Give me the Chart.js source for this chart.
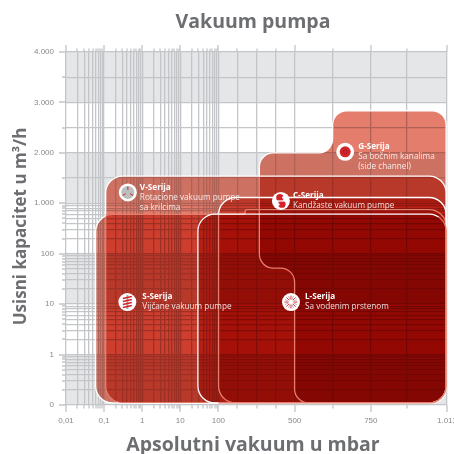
<!DOCTYPE html>
<html>
<head>
<meta charset="utf-8">
<style>
  html, body { margin: 0; padding: 0; background: #fff; }
  #wrap { position: relative; width: 454px; height: 454px; overflow: hidden; }
</style>
<script src="https://cdn.jsdelivr.net/npm/chart.js@4/dist/chart.umd.js"></script>
</head>
<body>
<div id="wrap"><canvas id="chart" width="454" height="454"></canvas></div>
<script>
// x decades are half as wide as the linear parts, y knots are all evenly spaced
const xKnots = [0.01, 0.1, 1, 10, 100, 500, 750, 1013];
const yKnots = [0.1, 1, 10, 100, 1000, 2000, 3000, 4000];
const xKnotSteps = [0, 1, 2, 3, 4, 6, 8, 10];
const yKnotSteps = [0, 1, 2, 3, 4, 5, 6, 7];
const xTickLabels = ['0,01', '0,1', '1', '10', '100', '500', '750', '1.013'];
const yTickLabels = ['0', '1', '10', '100', '1.000', '2.000', '3.000', '4.000'];
const xMinor = [0.02, 0.03, 0.04, 0.05, 0.06, 0.07, 0.08, 0.09,
  0.2, 0.3, 0.4, 0.5, 0.6, 0.7, 0.8, 0.9,
  2, 3, 4, 5, 6, 7, 8, 9,
  20, 30, 40, 50, 60, 70, 80, 90,
  200, 300, 400, 625, 875];
const yMinor = [0.2, 0.3, 0.4, 0.5, 0.6, 0.7, 0.8, 0.9,
  2, 3, 4, 5, 6, 7, 8, 9,
  20, 30, 40, 50, 60, 70, 80, 90,
  200, 300, 400, 500, 600, 700, 800, 900,
  1500, 2500, 3500];
const logLimit = { x: 100, y: 1000 };

const bandFlow = [[3000, 4000], [1000, 2000], [10, 100], [0.1, 1]];

// operating ranges: outline corners in mbar / m3/h
const gMbar = [315, 625, 625, 1010, 1010, 500, 500, 315];
const gFlow = [2000, 2000, 2835, 2835, 0.11, 0.11, 52, 52];
const vMbar = [0.11, 1010, 1010, 0.11];
const vFlow = [1540, 1540, 0.11, 0.11];
const sMbar = [0.06, 240, 240, 1010, 1010, 0.06];
const sFlow = [600, 600, 750, 750, 0.11, 0.11];
const cMbar = [101, 1010, 1010, 101];
const cFlow = [1115, 1115, 0.11, 0.11];
const lMbar = [29, 1010, 1010, 29];
const lFlow = [610, 610, 0.11, 0.11];

const seriesKeys = ['G', 'V', 'S', 'C', 'L'];
const seriesNames = ['G-Serija', 'V-Serija', 'S-Serija', 'C-Serija', 'L-Serija'];
const seriesNotes = [
  ['Sa bočnim kanalima', '(side channel)'],
  ['Rotacione vakuum pumpe', 'sa krilcima'],
  ['Vijčane vakuum pumpe'],
  ['Kandžaste vakuum pumpe'],
  ['Sa vodenim prstenom']
];
const iconMbar = [666, 0.42, 0.408, 428, 481];
const iconFlow = [2020, 1215, 11, 1046, 11];
const labelGap = [13, 12, 15, 12, 14];

const titleText = 'Vakuum pumpa';
const xTitleText = 'Apsolutni vakuum u mbar';
const yTitleText = 'Usisni kapacitet u m³/h';

const GREY = '#e5e6e8';
const GRID = '#c3c5c8';
const SALMON = '#e57d6c';
const TITLE = '#6d6e71';
const RED = '#d2232a';

const knotsFor = { x: xKnots, y: yKnots };
const stepsFor = { x: xKnotSteps, y: yKnotSteps };
const minorFor = { x: xMinor, y: yMinor };

class SegmentScale extends Chart.Scale {
  static id = 'segment';
  static defaults = {};

  determineDataLimits() {
    const knots = knotsFor[this.axis];
    this.min = knots[0];
    this.max = knots[knots.length - 1];
  }

  buildTicks() {
    return knotsFor[this.axis].concat(minorFor[this.axis])
      .sort((a, b) => a - b)
      .map((value) => ({ value }));
  }

  getPixelForValue(value) {
    const knots = knotsFor[this.axis];
    const steps = stepsFor[this.axis];
    const limit = logLimit[this.axis];
    let i = 0;
    while (i < knots.length - 2 && value > knots[i + 1]) i++;
    const a = knots[i];
    const b = knots[i + 1];
    const part = b <= limit
      ? Math.log(value / a) / Math.log(b / a)
      : (value - a) / (b - a);
    const step = steps[i] + part * (steps[i + 1] - steps[i]);
    return this.getPixelForDecimal(step / steps[steps.length - 1]);
  }

  getValueForPixel(pixel) {
    const knots = knotsFor[this.axis];
    const steps = stepsFor[this.axis];
    const pos = this.getDecimalForPixel(pixel) * steps[steps.length - 1];
    let i = 0;
    while (i < steps.length - 2 && pos > steps[i + 1]) i++;
    const part = (pos - steps[i]) / (steps[i + 1] - steps[i]);
    const a = knots[i];
    const b = knots[i + 1];
    return b <= logLimit[this.axis]
      ? a * Math.pow(b / a, part)
      : a + (b - a) * part;
  }
}
Chart.register(SegmentScale);

const toPoints = (xs, ys) => xs.map((x, i) => ({ x, y: ys[i] }));

const xFirst = xKnots[0];
const xLast = xKnots[xKnots.length - 1];
const bandSets = bandFlow.map((b) => ({
  label: 'band',
  data: toPoints([xFirst, xLast, xLast, xFirst], [b[1], b[1], b[0], b[0]]),
  showLine: false,
  pointRadius: 0
}));
const regionSets = [
  { label: 'G', xs: gMbar, ys: gFlow },
  { label: 'V', xs: vMbar, ys: vFlow },
  { label: 'S', xs: sMbar, ys: sFlow },
  { label: 'C', xs: cMbar, ys: cFlow },
  { label: 'L', xs: lMbar, ys: lFlow }
].map((r) => ({
  label: r.label,
  data: toPoints(r.xs, r.ys),
  showLine: false,
  pointRadius: 0
}));
// only used to tint the lower right part of the L outline
const edgeSet = {
  label: 'edge',
  data: toPoints([101, 1013, 1013, 101], [520, 520, 0.1, 0.1]),
  showLine: false,
  pointRadius: 0
};
const iconSet = {
  label: 'icons',
  data: toPoints(iconMbar, iconFlow),
  showLine: false,
  pointRadius: 0
};

function roundedPath(pts, radius) {
  const path = new Path2D();
  const n = pts.length;
  const dist = (a, b) => Math.hypot(a.x - b.x, a.y - b.y);
  const start = { x: (pts[n - 1].x + pts[0].x) / 2, y: (pts[n - 1].y + pts[0].y) / 2 };
  path.moveTo(start.x, start.y);
  for (let i = 0; i < n; i++) {
    const p = pts[i];
    const prev = pts[(i + n - 1) % n];
    const next = pts[(i + 1) % n];
    const r = Math.min(radius, dist(p, prev) / 2, dist(p, next) / 2);
    path.arcTo(p.x, p.y, next.x, next.y, r);
  }
  path.closePath();
  return path;
}

function metaPoints(chart, label) {
  const ds = chart.data.datasets.findIndex((d) => d.label === label);
  return chart.getDatasetMeta(ds).data;
}

function drawIcon(ctx, key, x, y) {
  ctx.save();
  ctx.translate(x, y);
  ctx.fillStyle = '#fff';
  ctx.beginPath();
  ctx.arc(0, 0, 9, 0, Math.PI * 2);
  ctx.fill();
  if (key === 'V') {
    ctx.fillStyle = '#bcbec0';
    ctx.beginPath();
    ctx.arc(0, 0, 6.5, 0, Math.PI * 2);
    ctx.fill();
    ctx.lineWidth = 1;
    ctx.strokeStyle = RED;
    [-90, 30, 150].forEach((deg) => {
      const a = deg * Math.PI / 180;
      ctx.beginPath();
      ctx.moveTo(Math.cos(a) * 2.5, Math.sin(a) * 2.5);
      ctx.lineTo(Math.cos(a) * 6, Math.sin(a) * 6);
      ctx.stroke();
    });
  } else if (key === 'G') {
    ctx.fillStyle = RED;
    ctx.beginPath();
    ctx.arc(0, 0, 5.5, 0, Math.PI * 2);
    ctx.fill();
    ctx.strokeStyle = '#9c1a22';
    ctx.lineWidth = 0.6;
    ctx.beginPath();
    ctx.arc(0, 0, 2, 0, Math.PI * 2);
    ctx.stroke();
  } else if (key === 'C') {
    ctx.fillStyle = RED;
    [-3.2, 3.2].forEach((dy) => {
      ctx.beginPath();
      ctx.arc(dy < 0 ? -1 : 1, dy, 3.7, 0, Math.PI * 2);
      ctx.fill();
    });
    ctx.fillStyle = '#fff';
    ctx.fillRect(-6, -0.6, 12, 1.2);
    ctx.beginPath();
    ctx.arc(2.5, -3.5, 1.3, 0, Math.PI * 2);
    ctx.arc(-2.5, 3.5, 1.3, 0, Math.PI * 2);
    ctx.fill();
  } else if (key === 'S') {
    ctx.fillStyle = '#a7a9ac';
    ctx.fillRect(-1, -7, 2, 14);
    ctx.strokeStyle = RED;
    ctx.lineWidth = 1.4;
    [-4.5, -1.5, 1.5, 4.5].forEach((dy) => {
      ctx.beginPath();
      ctx.moveTo(-4.5, dy + 1);
      ctx.lineTo(4.5, dy - 1);
      ctx.stroke();
    });
  } else if (key === 'L') {
    ctx.lineWidth = 0.9;
    for (let i = 0; i < 16; i++) {
      const a = i * Math.PI / 8;
      ctx.strokeStyle = i % 2 ? '#c9a0a5' : RED;
      ctx.beginPath();
      ctx.moveTo(Math.cos(a) * 2.5, Math.sin(a) * 2.5);
      ctx.lineTo(Math.cos(a) * 6.5, Math.sin(a) * 6.5);
      ctx.stroke();
    }
  }
  ctx.restore();
}

const sheetPlugin = {
  id: 'sheet',
  beforeDraw(chart) {
    const ctx = chart.ctx;
    ctx.save();
    ctx.fillStyle = GREY;
    chart.data.datasets.forEach((d, i) => {
      if (d.label !== 'band') return;
      ctx.fill(roundedPath(chart.getDatasetMeta(i).data, 0));
    });
    ctx.restore();
  },
  beforeDatasetsDraw(chart) {
    // ticks stick out past the plot, majors further than minors
    const ctx = chart.ctx;
    const { left, top, bottom } = chart.chartArea;
    const { x, y } = chart.scales;
    ctx.save();
    ctx.strokeStyle = GRID;
    ctx.lineWidth = 1.3;
    ctx.beginPath();
    x.ticks.forEach((t) => {
      const px = Math.round(x.getPixelForValue(t.value));
      const len = xKnots.includes(t.value) ? 7 : 3.5;
      ctx.moveTo(px, top - len);
      ctx.lineTo(px, top);
      ctx.moveTo(px, bottom);
      ctx.lineTo(px, bottom + len);
    });
    y.ticks.forEach((t) => {
      const py = Math.round(y.getPixelForValue(t.value));
      ctx.moveTo(left - (yKnots.includes(t.value) ? 7 : 4), py);
      ctx.lineTo(left, py);
    });
    ctx.stroke();
    ctx.restore();
  },
  afterDatasetsDraw(chart) {
    const ctx = chart.ctx;
    const paths = {};
    seriesKeys.forEach((k) => { paths[k] = roundedPath(metaPoints(chart, k), k === 'G' ? 14 : 17); });
    paths.edge = roundedPath(metaPoints(chart, 'edge'), 0);
    const tintBy = { G: 'V', V: 'S', S: 'V', C: 'L', L: 'edge' };

    ctx.save();
    ctx.globalCompositeOperation = 'multiply';
    ctx.fillStyle = SALMON;
    seriesKeys.forEach((k) => ctx.fill(paths[k]));
    ctx.restore();

    ctx.save();
    ctx.lineWidth = 1.3;
    seriesKeys.forEach((k) => {
      // outline is white outside its partner region and salmon inside it
      const outside = new Path2D();
      outside.rect(0, 0, chart.width, chart.height);
      outside.addPath(paths[tintBy[k]]);
      ctx.save();
      ctx.clip(outside, 'evenodd');
      ctx.strokeStyle = '#fff';
      ctx.stroke(paths[k]);
      ctx.restore();
      ctx.save();
      ctx.clip(paths[tintBy[k]]);
      ctx.strokeStyle = SALMON;
      ctx.stroke(paths[k]);
      ctx.restore();
    });
    ctx.restore();

    const icons = metaPoints(chart, 'icons');
    seriesKeys.forEach((k, i) => {
      const p = icons[i];
      drawIcon(ctx, k, p.x, p.y);
      const tx = p.x + labelGap[i];
      ctx.save();
      ctx.textBaseline = 'middle';
      ctx.textAlign = 'left';
      ctx.fillStyle = '#fff';
      ctx.font = 'bold 8.2px "Open Sans"';
      ctx.fillText(seriesNames[i], tx, p.y - 5);
      ctx.font = '8.2px "Open Sans"';
      ctx.fillStyle = 'rgba(255,255,255,0.85)';
      seriesNotes[i].forEach((line, j) => ctx.fillText(line, tx, p.y + 5 + j * 10));
      ctx.restore();
    });
  },
  afterDraw(chart) {
    const ctx = chart.ctx;
    ctx.save();
    ctx.fillStyle = TITLE;
    ctx.textAlign = 'center';
    ctx.textBaseline = 'middle';
    ctx.font = 'bold 19.5px "Open Sans"';
    ctx.fillText(titleText, 253, 22);
    ctx.fillText(xTitleText, 253, 445);
    ctx.translate(21, 226.5);
    ctx.rotate(-Math.PI / 2);
    ctx.font = 'bold 17px "Open Sans"';
    ctx.fillText(yTitleText, 0, 0);
    ctx.restore();
  }
};

const fitAxis = (size) => (scale) => {
  if (scale.axis === 'x') scale.height = size; else scale.width = size;
  scale.paddingLeft = scale.paddingRight = scale.paddingTop = scale.paddingBottom = 0;
};

const tickFont = { family: '"Liberation Sans"', size: 8 };

new Chart(document.getElementById('chart'), {
  type: 'line',
  data: { datasets: bandSets.concat(regionSets, [edgeSet, iconSet]) },
  options: {
    responsive: false,
    animation: false,
    events: [],
    layout: { padding: { top: 52, right: 7, left: 0, bottom: 0 } },
    plugins: { legend: { display: false }, title: { display: false }, tooltip: { enabled: false } },
    scales: {
      x: {
        type: 'segment',
        afterFit: fitAxis(49),
        border: { display: false },
        grid: { color: GRID, lineWidth: 1.3, drawTicks: false },
        ticks: {
          autoSkip: false, maxRotation: 0, padding: 11,
          color: '#88898c', font: tickFont,
          callback: (v) => xTickLabels[xKnots.indexOf(v)] ?? ''
        }
      },
      y: {
        type: 'segment',
        afterFit: fitAxis(66),
        border: { display: false },
        grid: { color: GRID, lineWidth: 1.3, drawTicks: false },
        ticks: {
          autoSkip: false, padding: 12,
          color: '#88898c', font: tickFont,
          callback: (v) => yTickLabels[yKnots.indexOf(v)] ?? ''
        }
      }
    }
  },
  plugins: [sheetPlugin]
});
</script>
</body>
</html>
